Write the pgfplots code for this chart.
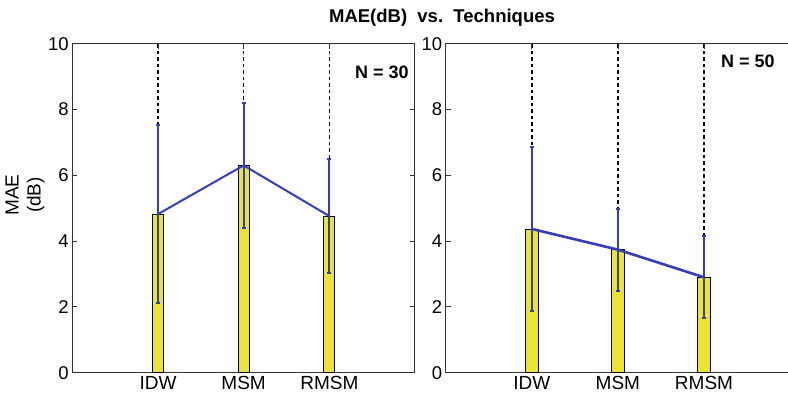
\documentclass[border=0pt]{standalone}
\usepackage{pgfplots}
\pgfplotsset{compat=1.18}
\usepackage{fontspec}
\setmainfont{Liberation Sans}
\definecolor{baryellow}{RGB}{236,228,48}
\definecolor{lineblue}{RGB}{50,62,190}
\begin{document}
\begin{tikzpicture}[x=1pt,y=1pt]
\useasboundingbox (0,0) rectangle (788,399);
\clip (0,0) rectangle (788,399);
\pgfplotsset{
 panel/.style={
  scale only axis, height=329pt, xmin=0, xmax=4, ymin=0, ymax=10,
  xtick={1,2,3}, xticklabels={IDW,MSM,RMSM}, ytick={0,2,...,10},
  tick align=inside, major tick length=5pt, yticklabel pos=left, xticklabel pos=bottom,
  xmajorgrids, grid style={black, line width=1.4pt, dash pattern=on 3.5pt off 3pt},
  axis line style={line width=1pt, black!80},
  tick style={black!80, line width=0.8pt},
  yticklabel style={font=\fontsize{18.5}{20}\selectfont},
  xticklabel style={font=\fontsize{19}{21}\selectfont},
  /pgf/number format/assume math mode=true,
 }
}
\begin{axis}[panel, at={(72.3pt,26.3pt)}, anchor=south west, width=342.7pt,
  ylabel={MAE\\(dB)},
  ylabel style={at={(axis description cs:-0.138,0.54)}, anchor=center, align=center, font=\fontsize{19}{22}\selectfont}]
\addplot[ybar, bar width=11pt, fill=baryellow, draw=black, line width=0.8pt] coordinates {(1,4.82) (2,6.30) (3,4.76)};
\addplot[lineblue, line width=2pt, mark=none,
  error bars/.cd, y dir=both, y explicit,
  error bar style={line width=2pt, lineblue},
  error mark options={rotate=90, mark size=2pt, line width=2pt, lineblue}]
  coordinates {(1,4.82) +- (0,2.70) (2,6.30) +- (0,1.90) (3,4.76) +- (0,1.74)};
\node[anchor=east, font=\bfseries\fontsize{18}{20}\selectfont] at (rel axis cs:0.992,0.914) {N = 30};
\end{axis}
\begin{axis}[panel, at={(445.7pt,26.3pt)}, anchor=south west, width=350pt, xmax=4.065]
\addplot[ybar, bar width=13pt, fill=baryellow, draw=black, line width=0.8pt] coordinates {(1,4.37) (2,3.74) (3,2.90)};
\addplot[lineblue, line width=2.6pt, mark=none,
  error bars/.cd, y dir=both, y explicit,
  error bar style={line width=2.6pt, lineblue},
  error mark options={rotate=90, mark size=2pt, line width=2pt, lineblue}]
  coordinates {(1,4.37) +- (0,2.50) (2,3.74) +- (0,1.25) (3,2.90) +- (0,1.25)};
\node[anchor=east, font=\bfseries\fontsize{18}{20}\selectfont] at (rel axis cs:0.95,0.948) {N = 50};
\end{axis}
\node[font=\bfseries\fontsize{18.5}{20}\selectfont] at (442,381) {MAE(dB)\ \ vs.\ \ Techniques};
\end{tikzpicture}
\end{document}
